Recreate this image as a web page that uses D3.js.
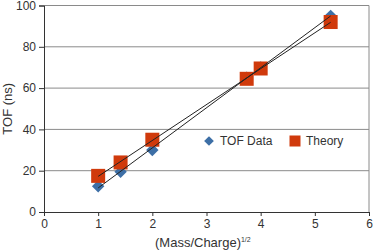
<!DOCTYPE html>
<html>
<head>
<meta charset="utf-8">
<script src="https://cdn.jsdelivr.net/npm/d3@7"></script>
<style>
  body { margin: 0; background: #fff; }
  svg { display: block; font-family: "Liberation Sans", Arial, sans-serif; }
</style>
</head>
<body>
<svg id="chart" width="373" height="251"></svg>
<script>
// sqrt(mass/charge) for each ion
const xVals = [1, 1.414, 2, 3.742, 4, 5.292]
const tofData = [12.5, 19.5, 30, 65, 70, 95]
const theory = [17.5, 24, 35, 64.5, 69.5, 92]
const xTicks = [0, 1, 2, 3, 4, 5, 6]
const yTicks = [0, 20, 40, 60, 80, 100]

const blue = "#3d6fa6", red = "#d03a0c"

let svg = d3.select("#chart")
let margin = {top: 5.5, right: 4, bottom: 39, left: 44}
let width = 373 - margin.left - margin.right,
    height = 251 - margin.top - margin.bottom

let x = d3.scaleLinear().domain([0, 6]).range([margin.left, margin.left + width])
let y = d3.scaleLinear().domain([0, 100]).range([margin.top + height, margin.top])

// gridlines
svg.append("g").selectAll("line")
    .data(yTicks.slice(1))
    .join("line")
    .attr("x1", x(0)).attr("x2", x(6))
    .attr("y1", d => y(d)).attr("y2", d => y(d))
    .attr("stroke", "#8a8a8a").attr("stroke-width", 1)
svg.append("line")
    .attr("x1", x(6)).attr("x2", x(6))
    .attr("y1", y(0)).attr("y2", y(100))
    .attr("stroke", "#8a8a8a")

// axes
let xAxis = svg.append("g")
    .attr("transform", `translate(0,${y(0)})`)
    .call(d3.axisBottom(x).tickValues(xTicks).tickFormat(d3.format("d")).tickSize(4).tickPadding(3))
let yAxis = svg.append("g")
    .attr("transform", `translate(${x(0)},0)`)
    .call(d3.axisLeft(y).tickValues(yTicks).tickFormat(d3.format("d")).tickSize(5).tickPadding(3))
for (let g of [xAxis, yAxis]) {
    g.select(".domain").attr("stroke", "#333")
    g.selectAll(".tick line").attr("stroke", "#333")
    g.selectAll("text").attr("fill", "#333").attr("font-size", "12px")
        .attr("font-family", "Liberation Sans, Arial, sans-serif")
}

// markers
let diamond = d3.symbol().type(d3.symbolDiamond2).size(98)
svg.append("g").selectAll("path")
    .data(xVals.map((v, i) => [v, tofData[i]]))
    .join("path")
    .attr("d", diamond)
    .attr("transform", d => `translate(${x(d[0])},${y(d[1])})`)
    .attr("fill", blue)
svg.append("g").selectAll("rect")
    .data(xVals.map((v, i) => [v, theory[i]]))
    .join("rect")
    .attr("x", d => x(d[0]) - 7).attr("y", d => y(d[1]) - 7)
    .attr("width", 14).attr("height", 14)
    .attr("fill", red)

// least-squares trend lines
function fit(ys) {
    let mx = d3.mean(xVals), my = d3.mean(ys)
    let sxy = d3.sum(xVals, (v, i) => (v - mx) * (ys[i] - my))
    let sxx = d3.sum(xVals, v => (v - mx) ** 2)
    let m = sxy / sxx
    return [m, my - m * mx]
}
for (let ys of [tofData, theory]) {
    let [m, b] = fit(ys)
    let x0 = d3.min(xVals), x1 = d3.max(xVals)
    svg.append("line")
        .attr("x1", x(x0)).attr("y1", y(m * x0 + b))
        .attr("x2", x(x1)).attr("y2", y(m * x1 + b))
        .attr("stroke", "#222").attr("stroke-width", 1)
}

// legend
let legend = svg.append("g").attr("font-size", "12px").attr("fill", "#333")
legend.append("path")
    .attr("d", d3.symbol().type(d3.symbolDiamond2).size(60))
    .attr("transform", "translate(209,141)")
    .attr("fill", blue)
legend.append("text").attr("x", 220).attr("y", 145).text("TOF Data")
legend.append("rect")
    .attr("x", 289.5).attr("y", 135.5).attr("width", 11).attr("height", 11)
    .attr("fill", red)
legend.append("text").attr("x", 306).attr("y", 145).text("Theory")

// axis titles
svg.append("text")
    .attr("transform", `translate(12,${y(50)}) rotate(-90)`)
    .attr("text-anchor", "middle")
    .attr("font-size", "13px").attr("fill", "#333")
    .text("TOF (ns)")
let xt = svg.append("text")
    .attr("x", 155).attr("y", 247)
    .attr("font-size", "13px").attr("fill", "#333")
xt.append("tspan").text("(Mass/Charge)")
xt.append("tspan").attr("font-size", "7px").attr("dy", -5).text("1/2")
</script>
</body>
</html>
